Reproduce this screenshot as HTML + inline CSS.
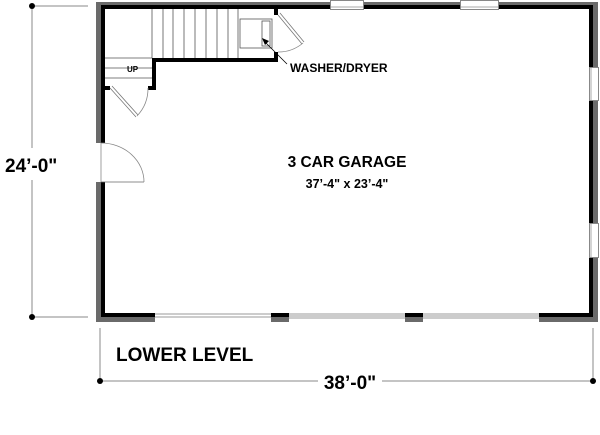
<!DOCTYPE html>
<html><head><style>body{margin:0;background:#fff}svg{display:block}text{font-family:"Liberation Sans",sans-serif;font-weight:bold;fill:#000}</style></head>
<body>
<svg width="600" height="435" viewBox="0 0 600 435" xmlns="http://www.w3.org/2000/svg">
<g fill="#6a6a6a">
<rect x="96" y="2" width="502" height="4"/>
<rect x="96" y="2" width="5" height="141"/>
<rect x="96" y="182" width="5" height="140"/>
<rect x="593" y="2" width="5" height="320"/>
<rect x="96" y="317" width="59" height="5"/>
<rect x="271" y="317" width="18" height="5"/>
<rect x="405" y="317" width="18" height="5"/>
<rect x="539" y="317" width="59" height="5"/>
</g>
<g fill="#000">
<rect x="101" y="5" width="492" height="4"/>
<rect x="101" y="5" width="4" height="138"/>
<rect x="101" y="182" width="4" height="135"/>
<rect x="589" y="5" width="4" height="312"/>
<rect x="101" y="313" width="54" height="4"/>
<rect x="271" y="313" width="18" height="4"/>
<rect x="405" y="313" width="18" height="4"/>
<rect x="539" y="313" width="54" height="4"/>
<rect x="152" y="58" width="126" height="4"/>
<rect x="152" y="58" width="4" height="32"/>
<rect x="148" y="86" width="8" height="4"/>
<rect x="105" y="86" width="5" height="4"/>
<rect x="274" y="9" width="4" height="6"/>
<rect x="274" y="52" width="4" height="10"/>
</g>
<g fill="#fff" stroke="#888" stroke-width="1">
<rect x="330.5" y="0.5" width="33" height="9"/>
<rect x="460.5" y="0.5" width="38" height="9"/>
<rect x="589.5" y="67.5" width="9" height="33"/>
<rect x="589.5" y="223.5" width="9" height="34"/>
</g>
<line x1="331" y1="7" x2="363" y2="7" stroke="#aaa"/>
<line x1="461" y1="7" x2="498" y2="7" stroke="#aaa"/>
<line x1="591" y1="68" x2="591" y2="100" stroke="#aaa"/>
<line x1="591" y1="224" x2="591" y2="257" stroke="#aaa"/>
<g stroke="#999" stroke-width="1">
<line x1="155" y1="314" x2="271" y2="314"/><line x1="155" y1="317" x2="271" y2="317"/>
<line x1="289" y1="314" x2="405" y2="314"/><line x1="289" y1="316" x2="405" y2="316"/><line x1="289" y1="318" x2="405" y2="318"/>
<line x1="423" y1="314" x2="539" y2="314"/><line x1="423" y1="316" x2="539" y2="316"/><line x1="423" y1="318" x2="539" y2="318"/>
</g>
<g stroke="#555" stroke-width="0.8" fill="none">
<line x1="152" y1="9" x2="152" y2="58"/>
<line x1="163" y1="9" x2="163" y2="58"/><line x1="173" y1="9" x2="173" y2="58"/>
<line x1="184" y1="9" x2="184" y2="58"/><line x1="195" y1="9" x2="195" y2="58"/>
<line x1="206" y1="9" x2="206" y2="58"/><line x1="217" y1="9" x2="217" y2="58"/>
<line x1="228" y1="9" x2="228" y2="58"/><line x1="238" y1="9" x2="238" y2="58"/>
<line x1="105" y1="58" x2="152" y2="58"/><line x1="105" y1="68" x2="152" y2="68"/><line x1="105" y1="78" x2="152" y2="78"/>
<rect x="240" y="19" width="32" height="29"/>
<rect x="262" y="21" width="8" height="25"/>
<path d="M110 88 L136 117 M112 86 L138 115" stroke="#777"/>
<path d="M137 116 A40 40 0 0 0 148 88" stroke="#888"/>
<path d="M278 15 L302 44 M280 13 L304 42" stroke="#777"/>
<path d="M303 43 A38 38 0 0 1 278 52" stroke="#888"/>
<line x1="101" y1="143" x2="101" y2="182" stroke="#888"/>
<line x1="101" y1="182" x2="144" y2="182" stroke="#666"/>
<path d="M101 143 A43 39 0 0 1 144 182" stroke="#888"/>
<line x1="264" y1="41" x2="287" y2="64" stroke="#000"/>
</g>
<polygon points="262,38 269,41 265,45" fill="#000"/>
<text x="127" y="72" font-size="8" font-weight="normal" fill="#333">UP</text>
<text x="290" y="72" font-size="12">WASHER/DRYER</text>
<text x="347" y="167" font-size="15.5" text-anchor="middle">3 CAR GARAGE</text>
<text x="347" y="188" font-size="12.5" text-anchor="middle">37’-4" x 23’-4"</text>
<g stroke="#888" stroke-width="1">
<line x1="32" y1="6" x2="32" y2="148"/><line x1="32" y1="180" x2="32" y2="317"/>
<line x1="32" y1="6" x2="88" y2="6"/><line x1="32" y1="317" x2="88" y2="317"/>
<line x1="100" y1="328" x2="100" y2="381"/><line x1="593" y1="328" x2="593" y2="381"/>
<line x1="100" y1="381" x2="318" y2="381"/><line x1="382" y1="381" x2="593" y2="381"/>
</g>
<g fill="#000"><circle cx="32" cy="6" r="3"/><circle cx="32" cy="317" r="3"/><circle cx="100" cy="381" r="3"/><circle cx="593" cy="381" r="3"/></g>
<text x="5" y="172" font-size="19">24’-0"</text>
<text x="350" y="389" font-size="19" text-anchor="middle">38’-0"</text>
<text x="116" y="361" font-size="19">LOWER LEVEL</text>
</svg>
</body></html>
